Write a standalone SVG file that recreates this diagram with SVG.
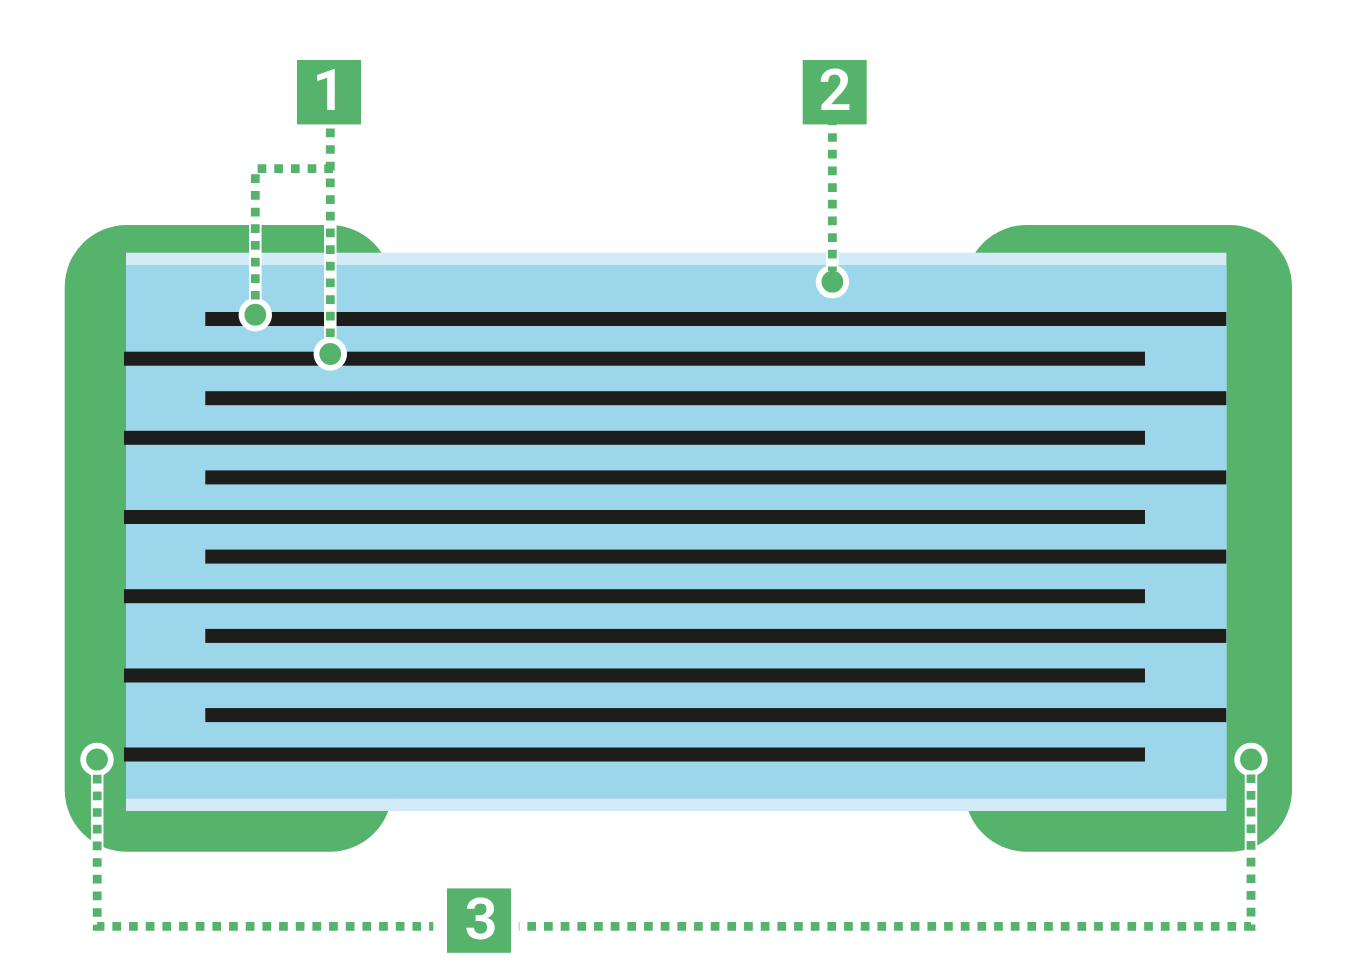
<svg xmlns="http://www.w3.org/2000/svg" width="1346" height="963" viewBox="0 0 1346 963">
<style>
.g{fill:#56b36b}
.lb{fill:#d2ebf6}
.bl{fill:#9cd6ea}
.k{fill:#1d1d1b}
.halo{fill:none;stroke:#fff;stroke-width:12.5}
.dash{fill:none;stroke:#56b36b;stroke-width:8.8;stroke-dasharray:8.7 7.97;stroke-miterlimit:10}
.pin{fill:#56b36b;stroke:#fff;stroke-width:5.8}
.num{font-family:Roboto,"Liberation Sans",sans-serif;font-weight:600;font-size:58px;fill:#fff;text-anchor:middle}
</style>
<rect width="1346" height="963" fill="#fff"/>
<g id="terminal-left"><rect class="g" x="64.7" y="225" width="327.3" height="626.7" rx="62" ry="62"/></g>
<g id="terminal-right"><rect class="g" x="964.7" y="225" width="327.3" height="626.7" rx="62" ry="62"/></g>
<g id="body">
<rect class="lb" x="126" y="252.7" width="1100.4" height="558.3"/>
<rect class="bl" x="126" y="265" width="1100.4" height="533.7"/>
</g>
<g id="electrodes">
<rect class="k" x="205.3" y="312" width="1021" height="14"/>
<rect class="k" x="124" y="351.7" width="1021" height="14"/>
<rect class="k" x="205.3" y="391.2" width="1021" height="14"/>
<rect class="k" x="124" y="430.8" width="1021" height="14"/>
<rect class="k" x="205.3" y="470.4" width="1021" height="14"/>
<rect class="k" x="124" y="510" width="1021" height="14"/>
<rect class="k" x="205.3" y="549.6" width="1021" height="14"/>
<rect class="k" x="124" y="589.2" width="1021" height="14"/>
<rect class="k" x="205.3" y="628.9" width="1021" height="14"/>
<rect class="k" x="124" y="668.5" width="1021" height="14"/>
<rect class="k" x="205.3" y="708.1" width="1021" height="14"/>
<rect class="k" x="124" y="747.5" width="1021" height="14"/>
</g>
<g id="connectors">
<path class="halo" d="M255.3 225V300M330.3 225V340M832.4 253V270M97.2 770V860M1251 770V860"/>
<circle class="pin" cx="255.3" cy="314.7" r="13.8"/>
<circle class="pin" cx="330.3" cy="354" r="13.8"/>
<circle class="pin" cx="832.4" cy="281.7" r="13.8"/>
<circle class="pin" cx="97" cy="759.5" r="13.8"/>
<circle class="pin" cx="1251" cy="759.5" r="13.8"/>
<path class="dash" d="M330.3 128.5V337"/>
<path class="dash" d="M333 168.7H255.3V299.5"/>
<path class="dash" d="M832.4 116.5V271"/>
<path class="dash" d="M97.2 774.8V926.3H433.3"/>
<path class="dash" d="M1251 774.4V926.3H518.8"/>
</g>
<g id="label-1"><rect class="g" x="297" y="60" width="64" height="64.4"/><text class="num" x="329" y="110">1</text></g>
<g id="label-2"><rect class="g" x="802.7" y="60" width="64" height="64.4"/><text class="num" x="835" y="110">2</text></g>
<g id="label-3"><rect class="g" x="447" y="888.4" width="64" height="64.4"/><text class="num" x="481" y="939">3</text></g>
</svg>
